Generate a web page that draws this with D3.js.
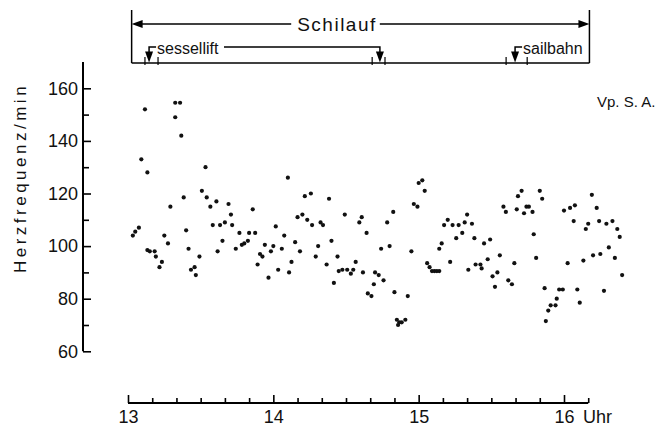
<!DOCTYPE html>
<html>
<head>
<meta charset="utf-8">
<script src="https://cdn.jsdelivr.net/npm/d3@7"></script>
<style>
  body { margin: 0; background: #fff; }
  svg { display: block; font-family: "Liberation Sans", Arial, sans-serif; }
</style>
</head>
<body>
<div id="chart"></div>
<script>
// time of each reading in minutes after 13:00, and the heart rate
const minutes = [
    2, 3, 4.5, 5.5, 7, 8, 8, 9, 11, 11.5,
    13, 14, 15, 16.5, 17.5, 19.5, 19.5, 21.5, 22, 23,
    24, 25, 26, 27.5, 28, 29.5, 30.5, 32, 32.5, 34,
    35, 36.5, 37, 38, 39, 40, 41.5, 42.5, 43, 44.5,
    46, 47, 48, 49.5, 50, 51.5, 52.5, 53.5, 54.5, 55.5,
    56.5, 58, 59, 60, 61, 62, 63.5, 64.5, 66, 66.5,
    67.5, 69, 70, 71, 72, 73, 74, 75.5, 76, 77.5,
    78.5, 79.5, 80.5, 82, 83, 84, 85, 86.5, 87, 88.5,
    89.5, 90.5, 92, 93, 94, 95.5, 96.5, 97, 98.5, 99,
    100.5, 101.5, 102, 103.5, 104.5, 105.5, 107, 108, 109.5, 110,
    111, 111.5, 112, 113, 114.5, 115.5, 117, 118, 119.5, 120,
    121.5, 122.5, 123.5, 124.5, 125.5, 126.5, 127.5, 128.5, 128.5, 129.5,
    130.5, 132, 133, 134, 135.5, 136.5, 138, 139, 140, 140.5,
    142, 143, 143.5, 145.5, 146, 147, 148.5, 149.5, 150.5, 151.5,
    152.5, 153.5, 155, 156, 157, 158.5, 159.5, 160.5, 161, 162.5,
    163.5, 164.5, 165.5, 167, 167.5, 168.5, 170, 171, 172, 172.5,
    173.5, 174.5, 176.5, 177, 178, 179.5, 180, 181.5, 182.5, 184,
    184.5, 185.5, 186.5, 188, 189, 190, 191.5, 192, 193.5, 194.5,
    195, 196.5, 197.5, 198.5, 200, 201, 202, 203, 204
];
const heartRate = [
    104, 105.5, 107, 133, 152, 128, 98.5, 98, 98, 96,
    92, 94, 104, 101, 115, 149, 154.5, 154.5, 142, 118.5,
    106, 99, 91, 92, 89, 96, 121, 130, 118.5, 115,
    108, 117, 98, 108, 102, 109, 116, 112, 108, 99,
    105, 100.5, 101, 102, 105, 114, 105, 93, 97, 96,
    100.5, 88, 98, 100, 107.5, 91, 99, 104, 126, 90,
    94, 101.5, 111, 98, 112, 119, 110, 120, 108, 96,
    100, 109, 108, 93, 118, 102, 86, 96, 90.5, 91,
    112, 91, 89.5, 91, 94, 109, 111, 90, 105, 82,
    81, 85.5, 90, 89, 99, 87, 109, 100, 113, 82.5,
    72, 70, 71, 71, 72, 81, 98, 116, 115, 124,
    125, 121, 93.5, 92, 90.5, 90.5, 90.5, 90.5, 99, 101,
    108, 110, 94, 108, 103, 108, 105, 109, 112, 91,
    108.5, 103, 93, 93, 91.5, 101, 95, 102.5, 88.5, 84.5,
    90, 96.5, 115, 113, 87, 85.5, 93.5, 114, 119, 121,
    112.5, 115, 115, 113, 104.5, 95.5, 121, 118, 84, 71.5,
    75.5, 77.5, 77.5, 80, 83.5, 83.5, 113.5, 93.5, 114.5, 109.5,
    115.5, 83.5, 78.5, 94.5, 106.5, 108.5, 119.5, 96.5, 114.5, 109.5,
    97, 83, 108.5, 99.5, 109.5, 95.5, 106.5, 103.5, 89
];

const xTicks = [13, 14, 15, 16];
const yTicks = [60, 80, 100, 120, 140, 160];
const yMinorTicks = [70, 90, 110, 130, 150];

// activity markers, minutes after 13:00
const schilauf = [1.5, 190.5];
const sessellift = [8.7, 104];
const sailbahn = [159.8];
const markerTicks = [7, 12.4, 100.8, 106.1, 156.1, 164.8];

const width = 671, height = 427;
const hour = m => 13 + m / 60;

const svg = d3.select("#chart").append("svg")
    .attr("width", width)
    .attr("height", height);

svg.append("rect").attr("width", width).attr("height", height).attr("fill", "#fff");

const x = d3.scaleLinear().domain([13, 16]).range([128, 564]);
const y = d3.scaleLinear().domain([60, 160]).range([351.3, 88.3]);

// x axis, ticks pointing up, axis line runs to 16:10
const xAxisY = 403;
const gx = svg.append("g").attr("transform", `translate(0,${xAxisY})`);
gx.call(d3.axisBottom(x).tickValues(xTicks).tickSize(-8).tickPadding(7).tickFormat(d3.format("d")));
const xMinor = d3.range(10, 191, 10).filter(m => m % 60 !== 0).map(hour);
gx.call(g => g.append("g").call(d3.axisBottom(x).tickValues(xMinor).tickSize(-5).tickFormat("")));
gx.selectAll(".domain").remove();
gx.append("line")
    .attr("x1", x(13)).attr("x2", x(hour(190)))
    .attr("stroke", "#000").attr("stroke-width", 2);
gx.selectAll(".tick line").attr("stroke-width", 1.6);
gx.attr("font-family", null).attr("font-size", 18);
gx.selectAll("text").attr("fill", "#111");

svg.append("text")
    .attr("x", 583).attr("y", 423)
    .attr("font-size", 18).attr("fill", "#111")
    .text("Uhr");

// y axis, ticks pointing right
const yAxisX = 83;
const gy = svg.append("g").attr("transform", `translate(${yAxisX},0)`);
gy.call(d3.axisLeft(y).tickValues(yTicks).tickSize(-8).tickPadding(5));
gy.call(g => g.append("g").call(d3.axisLeft(y).tickValues(yMinorTicks).tickSize(-6).tickFormat("")));
gy.selectAll(".domain").remove();
gy.append("line")
    .attr("y1", y(60)).attr("y2", y(170))
    .attr("stroke", "#000").attr("stroke-width", 2);
gy.selectAll(".tick line").attr("stroke-width", 1.6);
gy.attr("font-family", null).attr("font-size", 18);
gy.selectAll("text").attr("fill", "#111");

svg.append("text")
    .attr("transform", "translate(25.5,178) rotate(-90)")
    .attr("text-anchor", "middle")
    .attr("font-size", 17)
    .attr("letter-spacing", 3.5)
    .attr("fill", "#111")
    .text("Herzfrequenz/min");

svg.append("text")
    .attr("x", 597).attr("y", 107)
    .attr("font-size", 15)
    .attr("fill", "#111")
    .text("Vp. S. A.");

// data points
svg.append("g")
    .selectAll("circle")
    .data(minutes.map((m, i) => ({ t: hour(m), v: heartRate[i] })))
    .enter().append("circle")
    .attr("cx", d => x(d.t))
    .attr("cy", d => y(d.v))
    .attr("r", 2.1)
    .attr("fill", "#111");

// activity bracket at the top
const topY = 10, arrowY = 24, bracketY = 47, baseY = 63;
const ann = svg.append("g").attr("stroke", "#000").attr("fill", "none").attr("stroke-width", 1.5);
const left = x(hour(schilauf[0])), right = x(hour(schilauf[1]));

ann.append("line").attr("x1", left).attr("x2", left).attr("y1", topY).attr("y2", baseY);
ann.append("line").attr("x1", right).attr("x2", right).attr("y1", topY).attr("y2", baseY);
ann.append("line").attr("x1", left).attr("x2", right).attr("y1", baseY).attr("y2", baseY);

markerTicks.forEach(m => {
    ann.append("line")
        .attr("x1", x(hour(m))).attr("x2", x(hour(m)))
        .attr("y1", baseY - 6).attr("y2", baseY + 2)
        .attr("stroke-width", 1.2);
});

const schiText = svg.append("text")
    .attr("x", 337).attr("y", arrowY + 6.5)
    .attr("text-anchor", "middle")
    .attr("font-size", 19)
    .attr("letter-spacing", 1.5)
    .attr("fill", "#111")
    .text("Schilauf");
const sb = schiText.node().getBBox();

ann.append("line").attr("x1", left + 8).attr("x2", sb.x - 6).attr("y1", arrowY).attr("y2", arrowY);
ann.append("line").attr("x1", sb.x + sb.width + 3).attr("x2", right - 8).attr("y1", arrowY).attr("y2", arrowY);

svg.append("path")
    .attr("d", `M${left},${arrowY} l11,-4 v8 Z`)
    .attr("fill", "#000");
svg.append("path")
    .attr("d", `M${right},${arrowY} l-11,-4 v8 Z`)
    .attr("fill", "#000");

function downArrow(px) {
    svg.append("path")
        .attr("d", `M${px},${baseY - 0.5} l-4,-11 h8 Z`)
        .attr("fill", "#000");
}

// sessellift
const s0 = x(hour(sessellift[0])), s1 = x(hour(sessellift[1]));
const sessText = svg.append("text")
    .attr("x", s0 + 8).attr("y", 53.5)
    .attr("font-size", 16)
    .attr("fill", "#111")
    .text("sessellift");
const ssb = sessText.node().getBBox();
ann.append("path").attr("d", `M${s0},${baseY - 11} V${bracketY} H${s0 + 7}`);
ann.append("path").attr("d", `M${ssb.x + ssb.width + 5},${bracketY} H${s1} V${baseY - 11}`);
downArrow(s0);
downArrow(s1);

// sailbahn
const b0 = x(hour(sailbahn[0]));
svg.append("text")
    .attr("x", b0 + 8).attr("y", 53.5)
    .attr("font-size", 16)
    .attr("fill", "#111")
    .text("sailbahn");
ann.append("path").attr("d", `M${b0},${baseY - 11} V${bracketY} H${b0 + 7}`);
downArrow(b0);
</script>
</body>
</html>
